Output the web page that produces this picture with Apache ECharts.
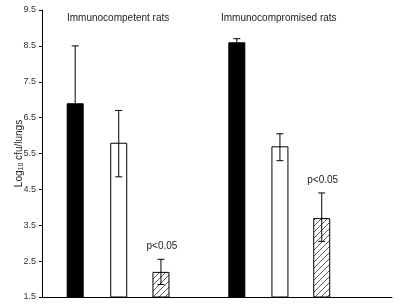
<!DOCTYPE html>
<html>
<head>
<meta charset="utf-8">
<script src="https://cdn.jsdelivr.net/npm/echarts@6/dist/echarts.min.js"></script>
<style>
  html, body { margin: 0; background: #fff; }
  #chart { width: 400px; height: 305px; }
</style>
</head>
<body>
<div id="chart"></div>
<script>
// groups and bars
const groups = ['Immunocompetent rats', 'Immunocompromised rats'];
const barPos = [0.77, 1.78, 2.76, 4.52, 5.52, 6.49];
const barKind = ['solid', 'open', 'hatch', 'solid', 'open', 'hatch'];
const means = [6.9, 5.8, 2.2, 8.6, 5.7, 3.7];
const errLow = [5.3, 4.85, 1.85, 8.5, 5.3, 3.05];
const errHigh = [8.5, 6.7, 2.55, 8.7, 6.05, 4.4];
const sigLabels = ['', '', 'p<0.05', '', '', 'p<0.05'];

const textColor = '#222';
const font = 'Liberation Sans, Arial, sans-serif';

// diagonal hatch pattern
function hatch() {
  const c = document.createElement('canvas');
  c.width = 6; c.height = 6;
  const ctx = c.getContext('2d');
  ctx.fillStyle = '#fff';
  ctx.fillRect(0, 0, 6, 6);
  ctx.strokeStyle = '#333';
  ctx.lineWidth = 0.8;
  ctx.beginPath();
  ctx.moveTo(0, 6); ctx.lineTo(6, 0);
  ctx.moveTo(-1, 1); ctx.lineTo(1, -1);
  ctx.moveTo(5, 7); ctx.lineTo(7, 5);
  ctx.stroke();
  return c;
}
const hatchPattern = { image: hatch(), repeat: 'repeat' };

function barStyle(kind) {
  if (kind === 'solid') return { color: '#000', borderColor: '#000', borderWidth: 1 };
  if (kind === 'open') return { color: '#fff', borderColor: '#000', borderWidth: 1 };
  return { color: hatchPattern, borderColor: '#000', borderWidth: 1 };
}

const chart = echarts.init(document.getElementById('chart'));

chart.setOption({
  animation: false,
  backgroundColor: '#fff',
  title: groups.map((g, i) => ({
    text: g,
    left: [67, 221][i],
    top: 13,
    padding: 0,
    textStyle: { fontSize: 10, fontWeight: 'normal', color: textColor, fontFamily: font }
  })),
  grid: { left: 42, right: 8, top: 10, bottom: 8 },
  xAxis: {
    type: 'value',
    min: 0,
    max: 8.12,
    axisLine: { show: true, onZero: false, lineStyle: { color: '#000', width: 1 } },
    axisTick: { show: false },
    axisLabel: { show: false },
    splitLine: { show: false }
  },
  yAxis: {
    type: 'value',
    min: 1.5,
    max: 9.5,
    interval: 1,
    name: 'Log{sub|10} cfu/lungs',
    nameLocation: 'middle',
    nameGap: 17,
    nameMoveOverlap: false,
    nameTextStyle: {
      fontSize: 10, color: textColor, fontFamily: font,
      rich: { sub: { fontSize: 7, color: textColor, fontFamily: font, verticalAlign: 'bottom', padding: [4, 0, 0, 0] } }
    },
    axisLine: { show: true, lineStyle: { color: '#000', width: 1 } },
    axisTick: { show: true, length: 3, lineStyle: { color: '#000' } },
    axisLabel: {
      fontSize: 9, color: '#333', fontFamily: font, margin: 6,
      formatter: v => v.toFixed(1)
    },
    splitLine: { show: false }
  },
  series: [
    {
      type: 'bar',
      barWidth: 17,
      data: means.map((v, i) => ({ value: [barPos[i], v], itemStyle: barStyle(barKind[i]) }))
    },
    {
      type: 'custom',
      z: 5,
      data: means.map((v, i) => [barPos[i], errLow[i], errHigh[i], i]),
      renderItem(params, api) {
        const x = api.value(0);
        const lo = api.coord([x, api.value(1)]);
        const hi = api.coord([x, api.value(2)]);
        const cap = 3.5;
        const ls = { stroke: '#000', lineWidth: 1 };
        const kids = [
          { type: 'line', shape: { x1: lo[0], y1: lo[1], x2: hi[0], y2: hi[1] }, style: ls },
          { type: 'line', shape: { x1: hi[0] - cap, y1: hi[1], x2: hi[0] + cap, y2: hi[1] }, style: ls },
          { type: 'line', shape: { x1: lo[0] - cap, y1: lo[1], x2: lo[0] + cap, y2: lo[1] }, style: ls }
        ];
        const lab = sigLabels[api.value(3)];
        if (lab) {
          kids.push({
            type: 'text',
            style: {
              text: lab, x: hi[0] + 1, y: hi[1] - 13,
              align: 'center', verticalAlign: 'middle',
              fontSize: 10, fill: textColor, fontFamily: font
            }
          });
        }
        return { type: 'group', children: kids };
      }
    }
  ]
});
</script>
</body>
</html>
